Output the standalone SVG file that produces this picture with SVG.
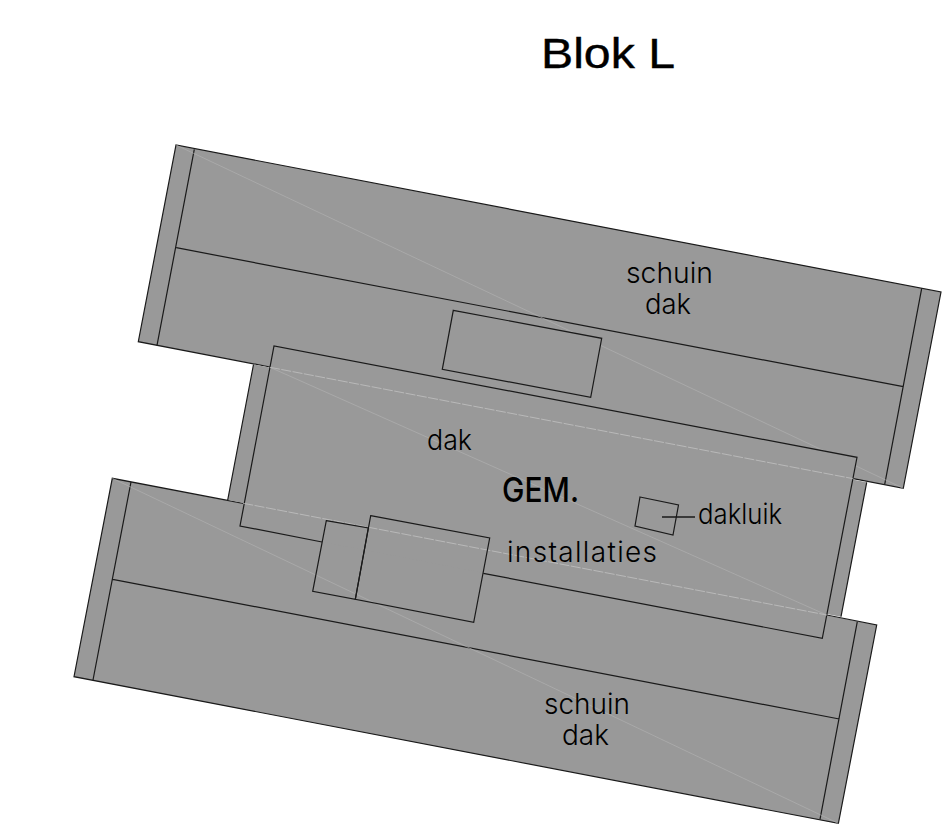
<svg xmlns="http://www.w3.org/2000/svg" width="942" height="827" viewBox="0 0 942 827">
<style>
.fill{fill:#999;stroke:none}
.edge{fill:none;stroke:#1a1a1a;stroke-width:1.2}
.diag{fill:none;stroke:#b4b4b4;stroke-width:.6}
.dash{fill:none;stroke:#cfcfcf;stroke-width:.6;stroke-dasharray:10 1.5}
text{font-family:"Inter","Liberation Sans",sans-serif;fill:#000}
.lbl{font-size:28px;font-weight:300}
</style>
<rect width="942" height="827" fill="#fff"/>
<g id="title"><text x="541" y="68" textLength="134" lengthAdjust="spacingAndGlyphs" style="font-family:'Liberation Sans',sans-serif;font-size:43px;stroke:#000;stroke-width:.4">Blok L</text></g>
<g id="block-top">
<polygon class="fill" points="176,145 941,292 903.3,488.3 138.3,341.7"/>
<path class="edge" d="M270,367 L138.3,341.7 L176,145 L941,292 L903.3,488.3 L853.3,478.7"/>
<path class="edge" d="M194.3,149.3 L157,345.3 M921.7,288.3 L884.7,484.3 M176.3,247.7 L903.3,386.7"/>
<path class="diag" d="M176,145 L903.3,488.3"/>
</g>
<g id="block-bottom">
<polygon class="fill" points="112.3,478.3 876.7,625 838.4,823.4 74,676.7"/>
<path class="edge" d="M243.3,503.3 L112.3,478.3 L74,676.7 L838.4,823.4 L876.7,625 L826.7,615"/>
<path class="edge" d="M131,482 L93,680 M857.3,621.7 L820,819.3 M112.7,579.3 L839.3,719"/>
<path class="diag" d="M112.3,478.3 L838.4,823.4"/>
</g>
<g id="block-middle">
<polygon class="fill" points="253.5,364.5 866.7,482.3 841,616.7 227.7,500"/>
<path class="edge" d="M253.5,364.5 L227.7,500 M866.7,482.3 L841,616.7"/>
<polygon class="fill" points="274,346 857,457.3 822.3,638.3 240,526"/>
<path class="edge" d="M322,542 L240,526 L274,346 L857,457.3 L822.3,638.3 L483.3,573.3"/>
<path class="dash" d="M270,367.3 L853.3,478.7 M243.3,503.3 L826.7,615"/>
<path class="diag" d="M270,367.3 L826.7,615"/>
</g>
<g id="opening"><polygon class="edge" style="fill:#999" points="453.3,310.3 601.7,338.3 590.7,397.3 442.3,369.3"/></g>
<g id="installaties-small"><polygon class="edge" points="326.3,520.7 368.3,528 355.3,599.3 312.7,591.3"/></g>
<g id="installaties-big"><polygon class="edge" points="370.7,515.7 489.7,538 473.7,622.3 355.3,599.3"/></g>
<g id="dakluik"><polygon class="edge" points="640,497 678.5,505 673,535 635,526"/></g>
<g id="connectors"><path class="edge" style="stroke-width:1.5" d="M662,517 L695,517"/></g>
<g id="labels">
<text class="lbl" x="626" y="283" textLength="87" lengthAdjust="spacingAndGlyphs">schuin</text>
<text class="lbl" x="645" y="314" textLength="46" lengthAdjust="spacingAndGlyphs">dak</text>
<text class="lbl" x="427" y="450" textLength="45" lengthAdjust="spacingAndGlyphs">dak</text>
<text x="502" y="502" textLength="77" lengthAdjust="spacingAndGlyphs" style="font-size:34px;font-weight:500">GEM.</text>
<text class="lbl" x="507" y="562" textLength="150" lengthAdjust="spacing">installaties</text>
<text class="lbl" x="698" y="524" textLength="84" lengthAdjust="spacingAndGlyphs">dakluik</text>
<text class="lbl" x="544" y="714" textLength="86" lengthAdjust="spacingAndGlyphs">schuin</text>
<text class="lbl" x="562" y="745" textLength="47" lengthAdjust="spacingAndGlyphs">dak</text>
</g>
</svg>
